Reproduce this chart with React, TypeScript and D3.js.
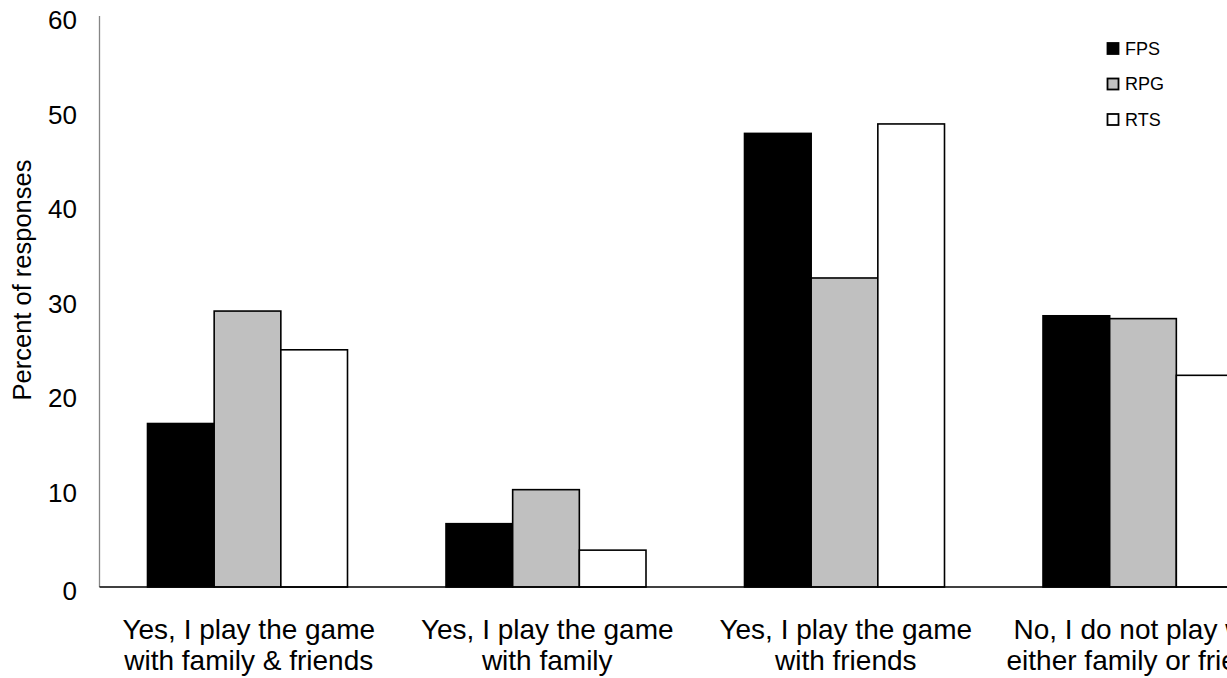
import React from "react";
import * as d3 from "d3";

const categories: string[][] = [
  ["Yes, I play the game", "with family & friends"],
  ["Yes, I play the game", "with family"],
  ["Yes, I play the game", "with friends"],
  ["No, I do not play with", "either family or friends"],
];
const seriesNames = ["FPS", "RPG", "RTS"];
const fpsValues = [17.3, 6.7, 48.0, 28.7];
const rpgValues = [29.2, 10.3, 32.7, 28.4];
const rtsValues = [25.1, 3.9, 49.0, 22.4];
const yTicks = [0, 10, 20, 30, 40, 50, 60];

const seriesValues = [fpsValues, rpgValues, rtsValues];
const fills = ["#000000", "#c0c0c0", "#ffffff"];
const FONT = "'Liberation Sans', Arial, sans-serif";

export default function App() {
  const W = 1227;
  const H = 678;
  const left = 99.5;
  const step = 298.5;
  const x0 = d3
    .scaleBand<number>()
    .domain(d3.range(categories.length))
    .range([left, left + step * categories.length])
    .padding(0);
  const x1 = d3.scaleBand<number>().domain(d3.range(seriesNames.length)).range([48, 248]).padding(0);
  const y = d3.scaleLinear().domain([0, 60]).range([587, 20]);

  return (
    <svg
      width={W}
      height={H}
      style={{ position: "fixed", left: 0, top: 0, background: "#fff" }}
      fontFamily={FONT}
    >
      <rect x={0} y={0} width={W} height={H} fill="#fff" />
      {/* bars */}
      {categories.map((_, ci) =>
        seriesValues.map((vals, si) => {
          const bx = (x0(ci) as number) + (x1(si) as number);
          const by = y(vals[ci]);
          return (
            <rect
              key={`${ci}-${si}`}
              x={bx}
              y={by}
              width={x1.bandwidth()}
              height={y(0) - by}
              fill={fills[si]}
              stroke="#000"
              strokeWidth={1.6}
            />
          );
        })
      )}
      {/* axes */}
      <line x1={left} x2={left} y1={y(60) - 4} y2={y(0)} stroke="#868686" strokeWidth={1.3} />
      <line x1={left} x2={left + step * 4} y1={y(0)} y2={y(0)} stroke="#000" strokeWidth={1.3} />
      {yTicks.map((t) => (
        <text
          key={t}
          x={77}
          y={y(t) + (t === 0 ? 4 : 0)}
          textAnchor="end"
          dominantBaseline="central"
          fontSize={26}
          fill="#000"
        >
          {t}
        </text>
      ))}
      {categories.map((lines, ci) => {
        const cx = (x0(ci) as number) + x0.bandwidth() / 2;
        return (
          <text key={ci} x={cx} textAnchor="middle" fontSize={28} fill="#000">
            {lines.map((l, li) => (
              <tspan key={li} x={cx} y={639 + li * 31}>
                {l}
              </tspan>
            ))}
          </text>
        );
      })}
      <text
        transform="translate(22,280) rotate(-90)"
        textAnchor="middle"
        dominantBaseline="central"
        fontSize={25.5}
        fill="#000"
      >
        Percent of responses
      </text>
      {/* legend */}
      {seriesNames.map((s, i) => {
        const cy = 48.5 + i * 35.5;
        return (
          <g key={s}>
            <rect
              x={1107.5}
              y={cy - 5.5}
              width={11}
              height={11}
              fill={fills[i]}
              stroke="#000"
              strokeWidth={1.8}
            />
            <text x={1125} y={cy} dominantBaseline="central" fontSize={18} fill="#000">
              {s}
            </text>
          </g>
        );
      })}
    </svg>
  );
}
